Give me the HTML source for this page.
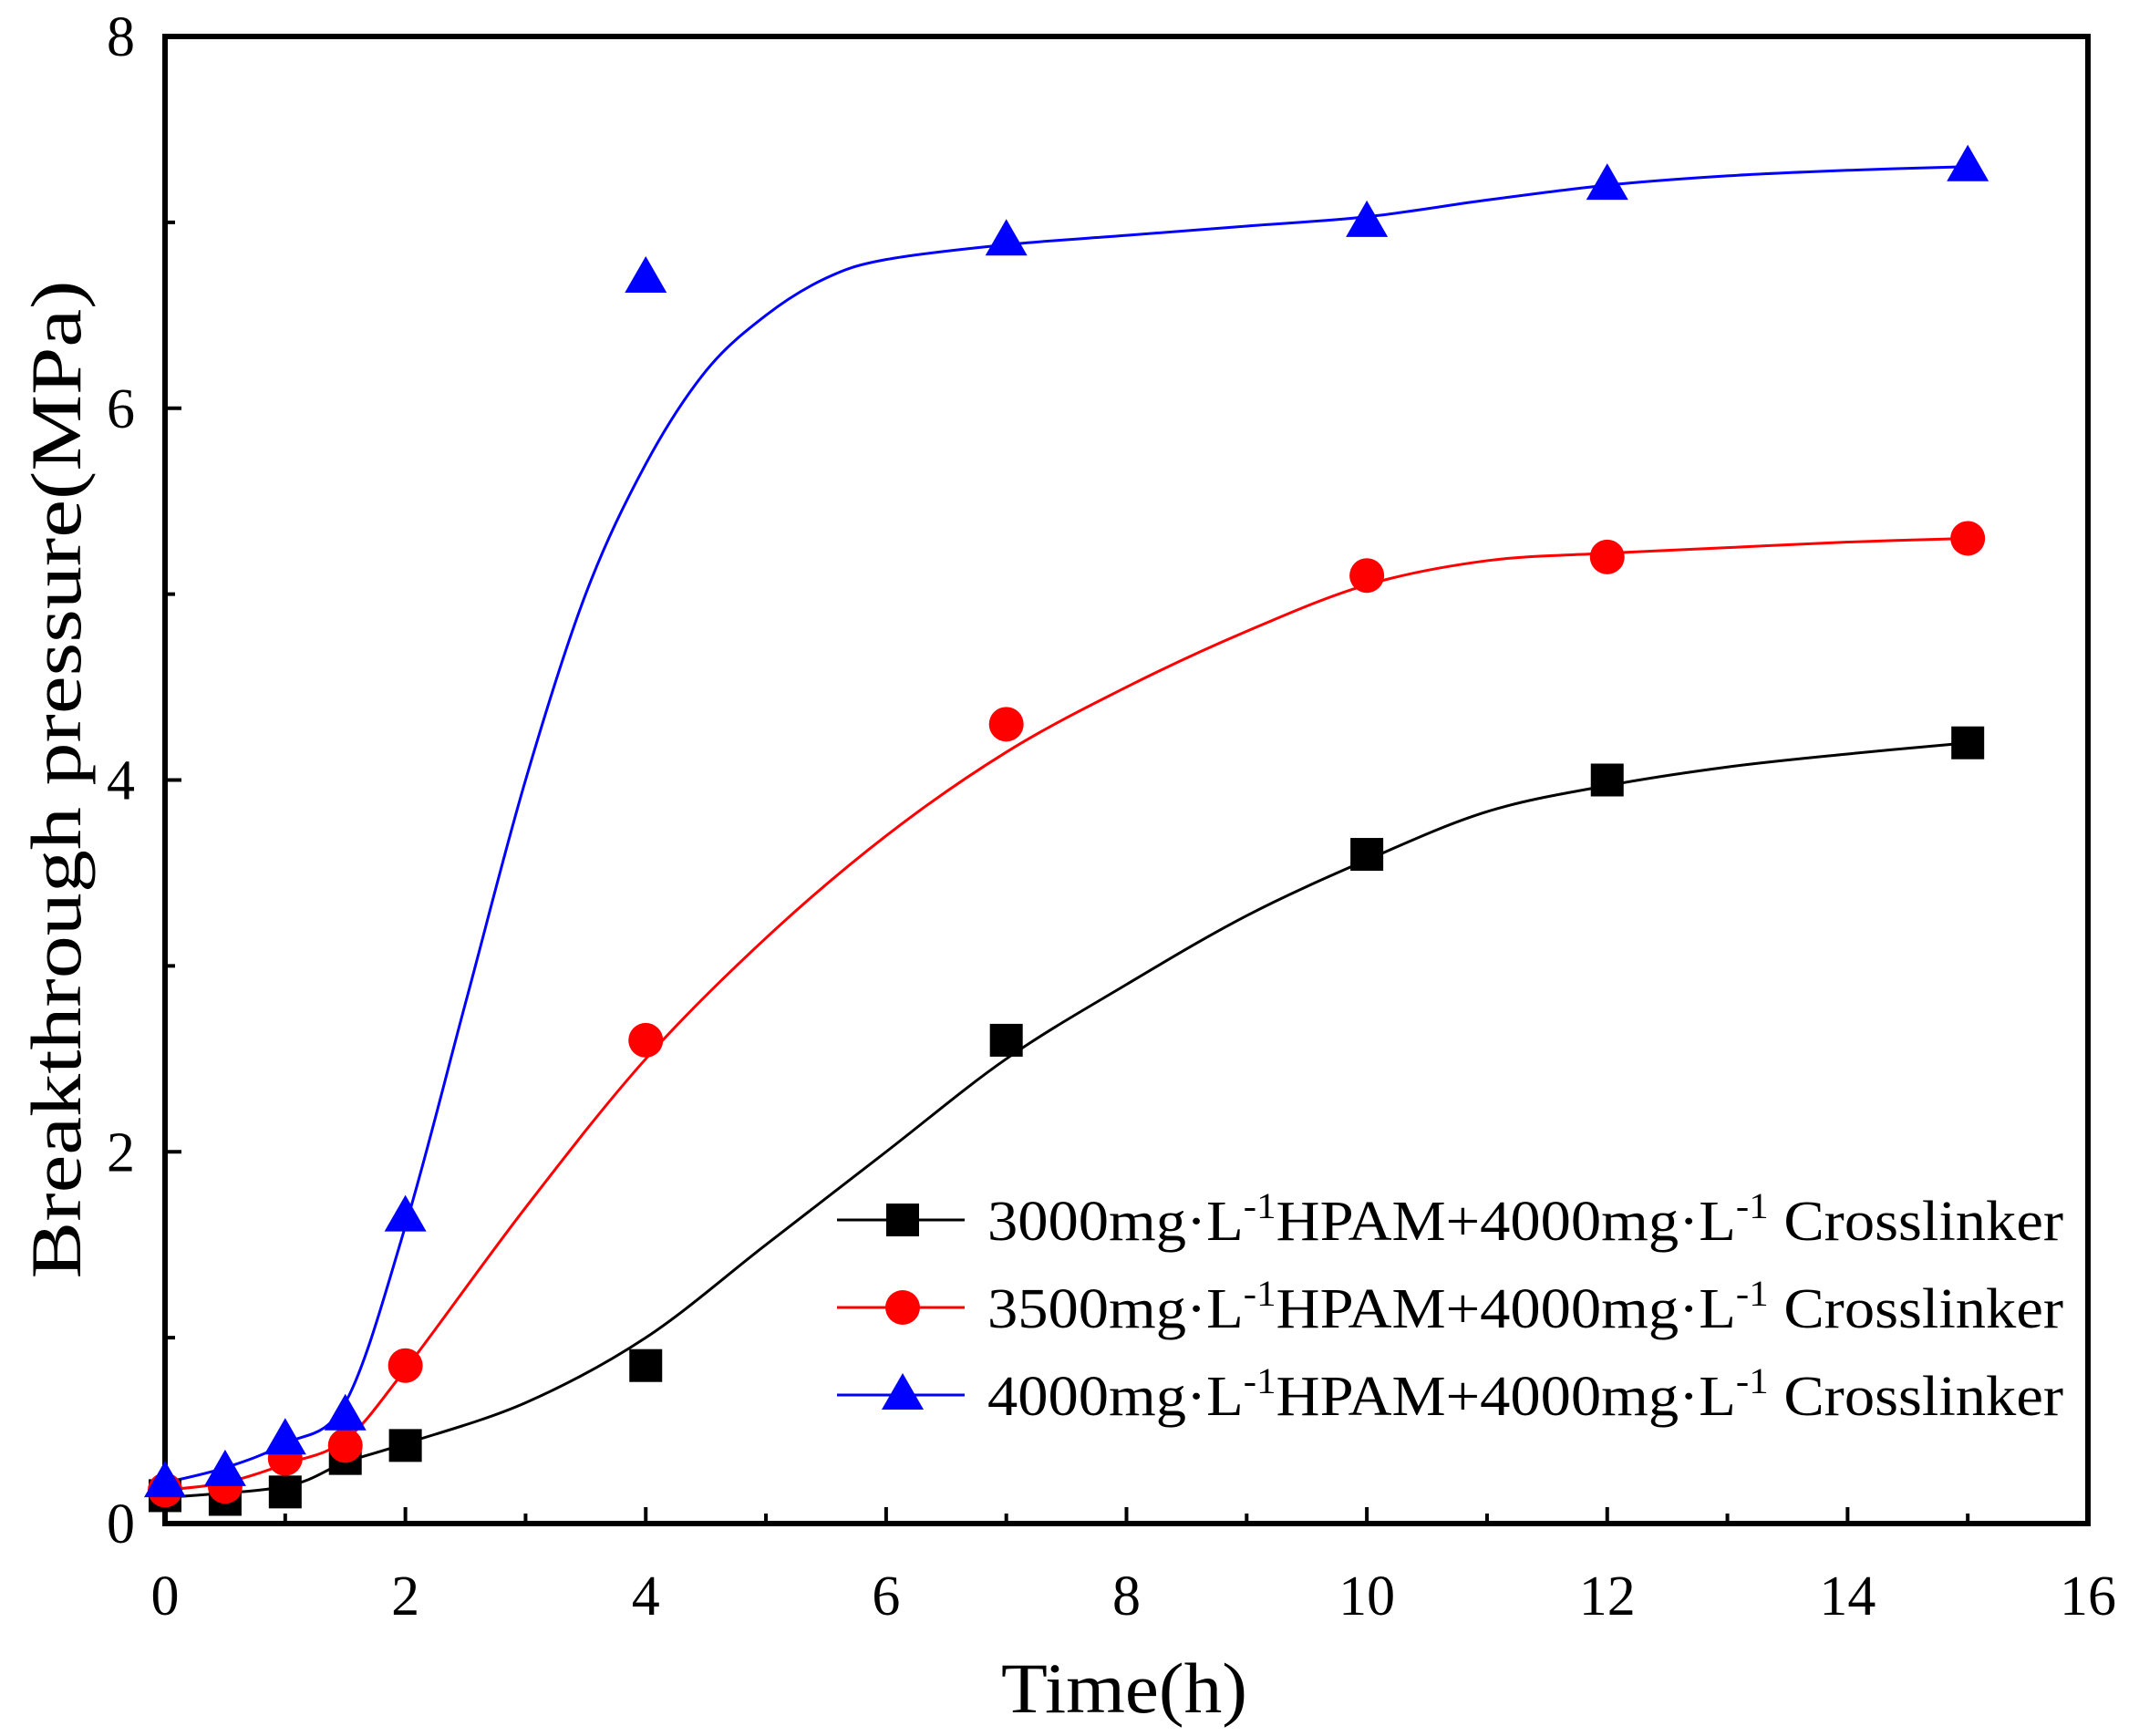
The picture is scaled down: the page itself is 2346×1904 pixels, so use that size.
<!DOCTYPE html>
<html><head><meta charset="utf-8"><style>
html,body{margin:0;padding:0;background:#fff}
svg{display:block}
text{font-family:"Liberation Serif",serif;fill:#000}
</style></head><body>
<svg id="chart" width="2346" height="1904" viewBox="0 0 2346 1904" xmlns="http://www.w3.org/2000/svg">
<g id="axes"></g>
<g id="curves"></g>
<g id="marks"></g>
<g id="legend"></g>
</svg>
<script>
const xTicks=[0,2,4,6,8,10,12,14,16];
const yTicks=[0,2,4,6,8];
const timeH=[0,0.5,1,1.5,2,4,7,10,12,15];
const series3000=[0.15,0.13,0.17,0.35,0.42,0.85,2.6,3.6,4.0,4.2];
const series3500=[0.18,0.2,0.35,0.42,0.85,2.6,4.3,5.1,5.2,5.3];
const series4000=[0.22,0.28,0.45,0.58,1.65,6.7,6.9,7.0,7.2,7.3];
const fit3000X=[0,1,1.5,2,3,4,5,6,7,8,9,10,11,12,13,14,15];
const fit3000Y=[0.14,0.2,0.33,0.43,0.65,1.0,1.5,2.0,2.5,2.9,3.27,3.57,3.83,3.97,4.07,4.14,4.2];
const fit3500X=[0,0.5,1,1.5,2,3,4,5,6,7,8,9,10,11,12,13,14,15];
const fit3500Y=[0.18,0.22,0.32,0.45,0.83,1.7,2.5,3.15,3.7,4.15,4.5,4.8,5.05,5.18,5.22,5.25,5.28,5.3];
const fit4000X=[0,0.5,1,1.5,2,2.5,3,3.5,4,4.5,5,5.5,6,7,8,9,10,11,12,13,14,15];
const fit4000Y=[0.22,0.3,0.43,0.65,1.6,2.8,4.0,5.0,5.7,6.2,6.5,6.7,6.8,6.88,6.93,6.98,7.03,7.12,7.2,7.25,7.28,7.3];
const legendLabels=["3000","3500","4000"];

const L=181,R=2290,T=40,B=1671;
const xs=v=>L+(v-0)/(16-0)*(R-L);
const ys=v=>B-(v-0)/(8-0)*(B-T);
const NS="http://www.w3.org/2000/svg";
function mk(tag,attrs,parent){const e=document.createElementNS(NS,tag);for(const k in attrs)e.setAttribute(k,attrs[k]);parent.appendChild(e);return e;}
const axes=document.getElementById('axes');
let fr=mk('rect',{x:L,y:T,width:R-L,height:B-T,fill:'none',stroke:'#000','stroke-width':6},axes);


xTicks.forEach((v,i)=>{
  const x=xs(v);
  let t=mk('line',{x1:x,y1:B,x2:x,y2:B-18,stroke:'#000','stroke-width':4},axes);
  
  
  if(i<xTicks.length-1){const m=xs(v+1);
    let mt=mk('line',{x1:m,y1:B,x2:m,y2:B-11,stroke:'#000','stroke-width':4},axes);
    
    }
  let lb=mk('text',{x:x,y:B+100,'font-size':62,'text-anchor':'middle'},axes);
  lb.textContent=v;
  
  
});
yTicks.forEach((v,i)=>{
  const y=ys(v);
  let t=mk('line',{x1:L,y1:y,x2:L+18,y2:y,stroke:'#000','stroke-width':4},axes);
  
  
  if(i<yTicks.length-1){const m=ys(v+1);
    let mt=mk('line',{x1:L,y1:m,x2:L+11,y2:m,stroke:'#000','stroke-width':4},axes);
    
    }
  let lb=mk('text',{x:L-33,y:y+21,'font-size':62,'text-anchor':'end'},axes);
  lb.textContent=v;
  
  
});
let xt=mk('text',{x:1233,y:1878,'font-size':78,'text-anchor':'middle',textLength:270,lengthAdjust:'spacingAndGlyphs'},axes);
xt.textContent='Time(h)';


let yt=mk('text',{x:0,y:0,'font-size':78,'text-anchor':'middle',transform:'translate(88,855) rotate(-90)',textLength:1095,lengthAdjust:'spacingAndGlyphs'},axes);
yt.textContent='Breakthrough pressure(MPa)';



function smooth(X,Y){
  const p=X.map((x,i)=>[xs(x),ys(Y[i])]);
  let d=`M${p[0][0]},${p[0][1]}`;
  for(let i=0;i<p.length-1;i++){
    const p0=p[Math.max(0,i-1)],p1=p[i],p2=p[i+1],p3=p[Math.min(p.length-1,i+2)];
    const c1=[p1[0]+(p2[0]-p0[0])/6,p1[1]+(p2[1]-p0[1])/6];
    const c2=[p2[0]-(p3[0]-p1[0])/6,p2[1]-(p3[1]-p1[1])/6];
    d+=`C${c1[0]},${c1[1]} ${c2[0]},${c2[1]} ${p2[0]},${p2[1]}`;
  }
  return d;
}
const curves=document.getElementById('curves');
[[fit3000X,fit3000Y,'#000','fit-curve-3000'],[fit3500X,fit3500Y,'#f00','fit-curve-3500'],[fit4000X,fit4000Y,'#00f','fit-curve-4000']].forEach(s=>{
  let c=mk('path',{d:smooth(s[0],s[1]),fill:'none',stroke:s[2],'stroke-width':3},curves);
  
  
});
const marks=document.getElementById('marks');
function square(x,y,p){return mk('rect',{x:x-18,y:y-18,width:36,height:36,fill:'#000'},p);}
function circle(x,y,p){return mk('ellipse',{cx:x,cy:y,rx:19,ry:19,fill:'#f00'},p);}
function tri(x,y,p){return mk('polygon',{points:`${x},${y-24} ${x+23},${y+16} ${x-23},${y+16}`,fill:'#00f'},p);}
timeH.forEach((t,i)=>{
  let a=square(xs(t),ys(series3000[i]),marks);
  
  
});
timeH.forEach((t,i)=>{
  let a=circle(xs(t),ys(series3500[i]),marks);
  
  
});
timeH.forEach((t,i)=>{
  let a=tri(xs(t),ys(series4000[i]),marks);
  
  
});
const lg=document.getElementById('legend');
const fns=[square,circle,tri],cols=['#000','#f00','#00f'];
legendLabels.forEach((lab,i)=>{
  const y=1338+i*96;
  const g=mk('g',{},lg);
  
  
  mk('line',{x1:918,y1:y,x2:1058,y2:y,stroke:cols[i],'stroke-width':3},g);
  fns[i](990,y,g);
  const tx=mk('text',{x:1083,y:y+22,'font-size':62,textLength:1180,lengthAdjust:'spacingAndGlyphs'},g);
  tx.innerHTML=lab+'mg·L<tspan dy="-24" font-size="40">-1</tspan><tspan dy="24">HPAM+4000mg·L</tspan><tspan dy="-24" font-size="40">-1</tspan><tspan dy="24"> Crosslinker</tspan>';
});
</script>
</body></html>
